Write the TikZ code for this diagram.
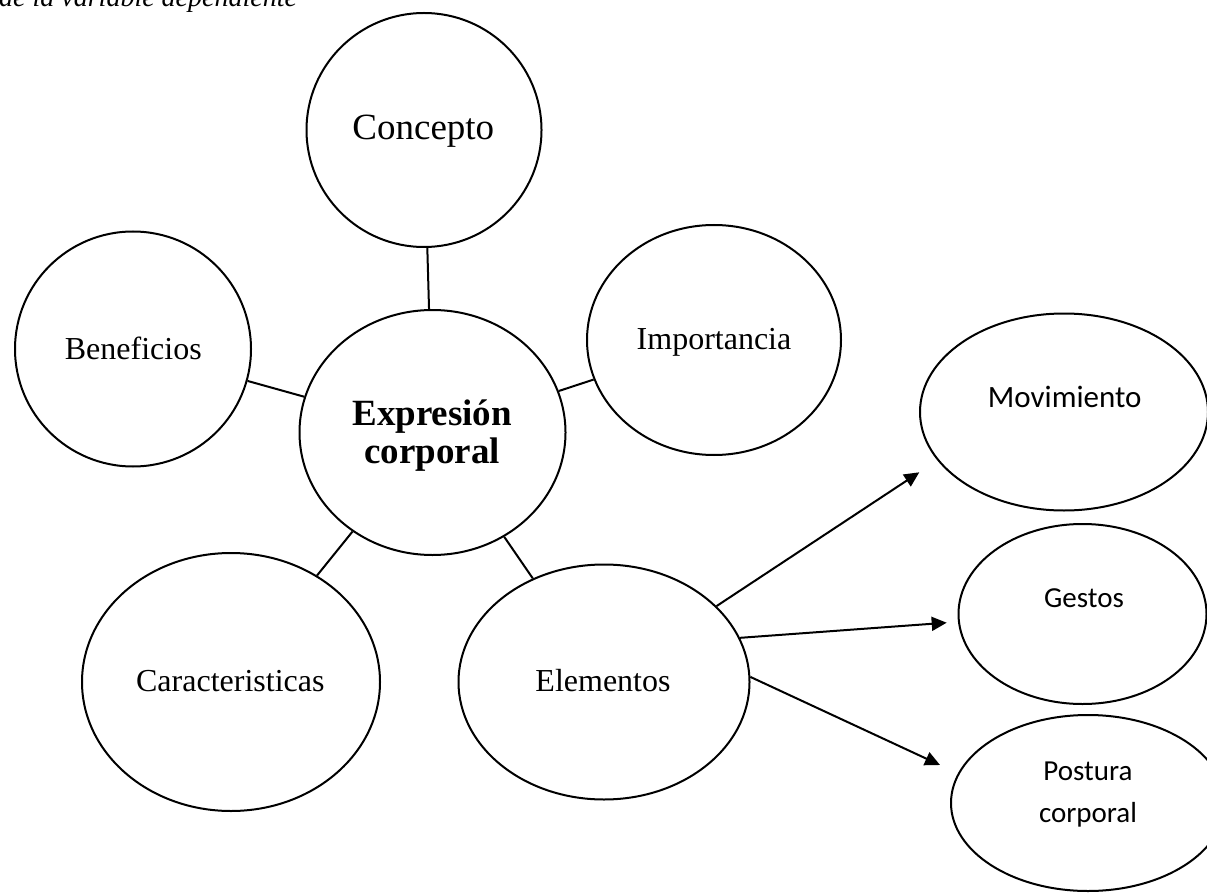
\documentclass[tikz,border=0pt]{standalone}
\usepackage{fontspec}
\setmainfont{Liberation Serif}
\newfontfamily\calib{Carlito}
\usetikzlibrary{shapes.geometric,arrows.meta}
\begin{document}
\begin{tikzpicture}[x=1pt,y=-1pt,
  bub/.style={draw,ellipse,line width=2pt,inner sep=0pt},
  lbl/.style={anchor=base,inner sep=0pt,font=\fontsize{32}{38}\selectfont},
  slbl/.style={anchor=base,inner sep=0pt,align=center,font=\calib\fontsize{29}{42.7}\selectfont},
  link/.style={line width=2pt},
  arr/.style={line width=2pt,-{Triangle[length=15pt,width=14pt]}}]
\useasboundingbox (0,0) rectangle (1207,893);
% caption fragment
\node[anchor=base west,inner sep=0pt,font=\itshape\fontsize{28}{30}\selectfont] (cap) at (-1,6.5) {de la variable dependiente};
% bubbles
\node[bub,minimum width=235pt,minimum height=234pt] (concepto) at (424,130) {};
\node[bub,minimum width=236pt,minimum height=235pt] (benef) at (133,349) {};
\node[bub,minimum width=254pt,minimum height=230pt] (impor) at (714,340) {};
\node[bub,minimum width=266pt,minimum height=245pt] (expr) at (432.5,432.5) {};
\node[bub,minimum width=298pt,minimum height=258pt] (carac) at (231,682) {};
\node[bub,minimum width=291pt,minimum height=235pt] (elem) at (604,682) {};
\node[bub,minimum width=288pt,minimum height=197pt] (mov) at (1064,412) {};
\node[bub,minimum width=248pt,minimum height=180pt] (gest) at (1082.5,614) {};
\node[bub,minimum width=274pt,minimum height=176pt] (post) at (1088,803) {};
% labels
\node[lbl,font=\fontsize{37}{40}\selectfont] (concepto-t) at (423.3,140) {Concepto};
\node[lbl] (benef-t) at (133.3,359) {Beneficios};
\node[lbl] (impor-t) at (714,349) {Importancia};
\node[lbl,align=center,font=\bfseries\fontsize{37}{38}\selectfont] (expr-t) at (432.2,463) {Expresión\\corporal};
\node[lbl] (carac-t) at (230.3,691.7) {Caracteristicas};
\node[lbl] (elem-t) at (603,691.7) {Elementos};
\node[slbl,font=\calib\fontsize{31}{36}\selectfont] (mov-t) at (1064.7,407.3) {Movimiento};
\node[slbl] (gest-t) at (1084,607.3) {Gestos};
\node[slbl] (post-t) at (1088,822.7) {Postura\\corporal};
% connectors
\draw[link] (concepto) -- (expr);
\draw[link] (benef) -- (expr);
\draw[link] (expr) -- (impor);
\draw[link] (expr) -- (carac);
\draw[link] (expr) -- (elem);
% arrows
\coordinate (mov-in) at (919.3,472.3);
\coordinate (gest-in) at (946.7,622.7);
\coordinate (post-in) at (940,765);
\draw[arr] (elem.34) -- (mov-in);
\draw[arr] (elem.18) -- (gest-in);
\draw[arr] (elem.2) -- (post-in);
\end{tikzpicture}
\end{document}
